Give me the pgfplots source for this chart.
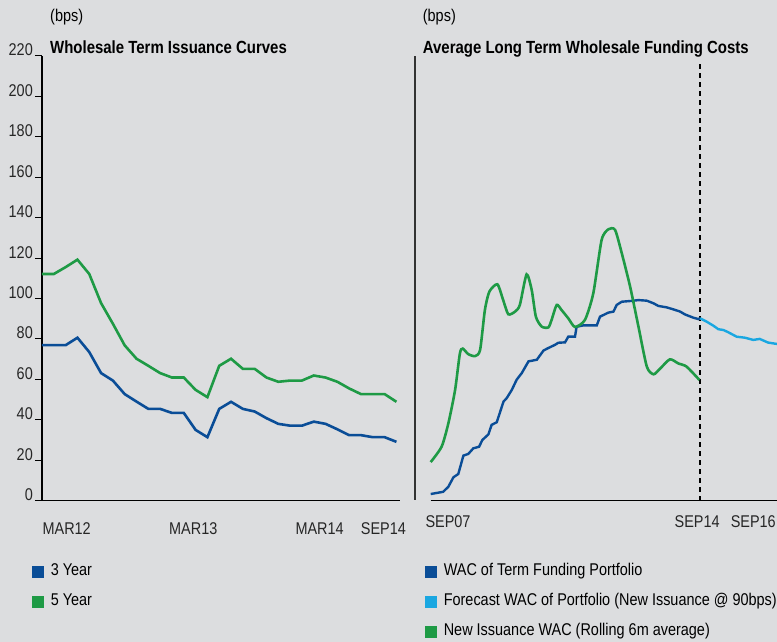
\documentclass[border=0pt]{standalone}
\usepackage{fontspec}
\setmainfont[FakeStretch=0.85]{Liberation Sans}
\usepackage{pgfplots}
\pgfplotsset{compat=1.18}
\definecolor{bg}{HTML}{DCDDDF}
\definecolor{dblue}{HTML}{0A4D97}
\definecolor{mgreen}{HTML}{1E9A45}
\definecolor{lblue}{HTML}{1AA7E1}
\newcommand\fs{\fontsize{17}{20}\selectfont}
\newcommand\ft{\fontsize{17.6}{20}\selectfont}
\pgfplotsset{
  common/.style={
    scale only axis, anchor=south west,
    /pgf/number format/assume math mode=true,
    tick label style={font=\fs, text=black!85},
    axis line style={-, line width=1.3pt, black},
    x tick style={draw=none},
    clip=false,
    legend cell align=left,
    legend style={draw=none, fill=none, font=\fs, inner sep=0pt, row sep=14pt,
      nodes={text height=12pt, text depth=4pt, inner sep=0pt},
      /tikz/every odd column/.append style={column sep=7pt}},
    legend image code/.code={\fill[##1] (0pt,-4.5pt) rectangle (9pt,4.5pt);},
    xticklabel style={anchor=base, yshift=-27pt},
  }
}
\begin{document}
\begin{tikzpicture}[x=1pt,y=1pt]
\fill[bg] (0,0) rectangle (777,642);
% Left panel
\begin{axis}[common,
  at={(42pt,141.3pt)}, width=358pt, height=444.9pt,
  xmin=0, xmax=30.3, ymin=0, ymax=220,
  axis x line*=bottom, axis y line*=left,
  xtick={2.09,12.8,23.5,28.9}, xticklabels={MAR12,MAR13,MAR14,SEP14},
  ytick={0,20,...,220},
  major tick length=7pt, tick align=outside,
  y tick style={line width=1pt, black},
  yticklabel style={anchor=base east, inner sep=0pt, xshift=-2pt},
  legend style={at={(axis description cs:0,0)}, anchor=north west, xshift=-10pt, yshift=-63pt},
]
\addplot[dblue, line width=2.6pt] coordinates {
(0,76.9)(1,76.9)(2,76.9)(3,80.6)(4,73.5)(5,63.1)(6,59.4)(7,52.7)(8,49.0)(9,45.4)(10,45.4)
(11,43.4)(12,43.4)(13,35.0)(14,31.4)(15,45.4)(16,48.9)(17,45.4)(18,44.1)(19,40.8)(20,38.0)
(21,37.1)(22,37.1)(23,39.1)(24,38.0)(25,35.3)(26,32.4)(27,32.4)(28,31.4)(29,31.4)(30,29.1)};
\addlegendentry{3 Year}
\addplot[mgreen, line width=2.6pt] coordinates {
(0,112.1)(1,112.1)(2,115.5)(3,119.2)(4,112.1)(5,97.7)(6,87.5)(7,76.8)(8,70.2)(9,66.7)(10,63.1)
(11,60.9)(12,60.9)(13,54.8)(14,51.2)(15,66.7)(16,70.2)(17,65.2)(18,65.2)(19,60.9)(20,58.8)
(21,59.4)(22,59.4)(23,61.9)(24,60.9)(25,58.8)(26,55.5)(27,52.7)(28,52.7)(29,52.7)(30,48.9)};
\addlegendentry{5 Year}
\end{axis}
% Right panel
\begin{axis}[common,
  at={(430.7pt,141.3pt)}, width=346.3pt, height=444.9pt,
  xmin=0, xmax=108, ymin=0, ymax=220,
  axis x line*=bottom, axis y line=none,
  xtick={5.4,83.1,100.6}, xticklabels={SEP07,SEP14,SEP16},
  ytick=\empty,
  legend style={at={(axis description cs:0,0)}, anchor=north west, xshift=-5.7pt, yshift=-63pt},
]
\draw[black!80, line width=1.6pt] (axis cs:-4.9,0.5) -- (axis cs:-4.9,220);
\draw[black, line width=1.2pt, dash pattern=on 5pt off 4pt] (axis cs:84,0) -- (axis cs:84,217);
\addplot[dblue, line width=2.4pt] coordinates {
(0,3.3)(3.9,4.4)(5.5,6.9)(7.1,11.6)(8.6,13.2)(10.2,22.3)(11.7,23.1)(13.3,25.9)(15.1,26.7)
(16.1,30.0)(18,32.8)(19,37.5)(20.6,38.8)(22.7,49.0)(23.7,50.7)(25.3,54.8)(26.8,59.8)
(28.4,63.1)(30.5,68.9)(33.1,69.7)(35.2,74.3)(36.7,75.5)(38.8,77.1)(39.8,78.1)(41.9,78.3)
(42.9,81.1)(45,81.1)(45.5,86)(47.6,86.7)(51.8,86.7)(52.8,91)(55.4,93)(57,93.5)(58,96.8)
(59.6,98.4)(62.7,98.8)(64.8,99.2)(67.4,98.9)(69.5,97.6)(71,96.3)(73.6,95.6)(75.7,94.6)
(77.8,93.5)(79.3,92.1)(81.9,90.5)(83.5,89.8)(84,90.2)};
\addlegendentry{WAC of Term Funding Portfolio}
\addplot[lblue, line width=2.4pt] coordinates {
(84,90.2)(86.1,88.5)(88.1,86.6)(89.7,84.8)(91.3,84.4)(92.8,83.3)(95.4,81.1)(98,80.6)
(100.6,79.5)(102.6,80)(105.2,78.2)(108,77.5)};
\addlegendentry{Forecast WAC of Portfolio (New Issuance @ 90bps)}
\addplot[mgreen, line width=2.6pt, smooth, tension=0.4] coordinates {
(0,19.1)(3.4,26.7)(5.5,38.2)(7.6,54.7)(9.1,72.8)(10,75.2)(11.7,72.5)(13.8,71.5)(15.4,74.5)
(16.9,94.3)(18.3,103.4)(20.8,107)(22.6,99.2)(24.2,92.2)(26.3,93.5)(27.8,96.8)(29.9,111.9)
(31.5,104.2)(32.8,91)(34.6,86.1)(36.7,85.7)(37.7,89.4)(39.3,96.8)(40.8,94.3)(42.9,90.2)
(45,85.9)(48.1,89.4)(50.7,102.5)(53.3,128.9)(55.4,134.2)(57.5,133.9)(59.6,122.3)(62.2,105.8)
(64.8,86.0)(67.4,66.3)(69.5,62.5)(71.6,65.4)(74.6,69.9)(77.2,67.9)(79.8,66.3)(83.8,59.7)};
\addlegendentry{New Issuance WAC (Rolling 6m average)}
\end{axis}
\node[anchor=base west, inner sep=0pt] at (50,588) {\ft\bfseries Wholesale Term Issuance Curves};
\node[anchor=base west, inner sep=0pt] at (50,620) {\fs (bps)};
\node[anchor=base west, inner sep=0pt] at (422.7,588) {\ft\bfseries Average Long Term Wholesale Funding Costs};
\node[anchor=base west, inner sep=0pt] at (422.7,620) {\fs (bps)};
\pgfresetboundingbox
\path[use as bounding box] (0,0) rectangle (777,642);
\end{tikzpicture}
\end{document}
